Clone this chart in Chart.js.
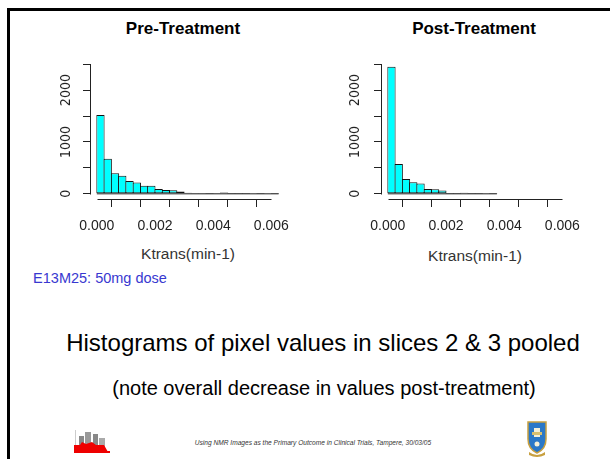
<!DOCTYPE html>
<html><head><meta charset="utf-8">
<script src="https://cdn.jsdelivr.net/npm/chart.js@4.4.0/dist/chart.umd.min.js"></script>
<style>
html,body{margin:0;padding:0;background:#fff;}
body{width:610px;height:459px;position:relative;overflow:hidden;font-family:'Liberation Sans',Arial,sans-serif;}
.frame{position:absolute;left:7px;top:8px;width:700px;height:600px;border-top:3px solid #000;border-left:3px solid #000;}
.t{position:absolute;white-space:nowrap;transform:translate(-50%,-50%);line-height:1;}
.cw{position:absolute;}
</style></head><body>
<div class="frame"></div>
<div class="t" style="left:183px;top:28px;font-weight:bold;font-size:17px;color:#000;">Pre-Treatment</div>
<div class="t" style="left:474px;top:28px;font-weight:bold;font-size:17px;color:#000;">Post-Treatment</div>
<div class="t" style="left:188px;top:254px;font-size:15.5px;color:#333;">Ktrans(min-1)</div>
<div class="t" style="left:475px;top:256px;font-size:15.5px;color:#333;">Ktrans(min-1)</div>
<div class="t" style="left:100px;top:278px;font-size:14.5px;color:#3838d0;">E13M25: 50mg dose</div>
<div class="t" style="left:323px;top:343px;font-size:24px;color:#000;">Histograms of pixel values in slices 2 &amp; 3 pooled</div>
<div class="t" style="left:324px;top:388px;font-size:20px;color:#000;">(note overall decrease in values post-treatment)</div>
<div class="t" style="left:313px;top:443px;font-size:6.6px;font-style:italic;color:#333;">Using NMR Images as the Primary Outcome in Clinical Trials, Tampere, 30/03/05</div>
<svg style="position:absolute;left:70px;top:428px" width="42" height="26" viewBox="0 0 42 26">
  <rect x="9" y="8" width="5" height="12" fill="#888"/>
  <rect x="15" y="4" width="6" height="16" fill="#999"/>
  <rect x="23" y="6" width="5" height="14" fill="#888"/>
  <rect x="29" y="10" width="6" height="10" fill="#aaa"/>
  <rect x="5" y="2" width="1" height="18" fill="#ccc"/>
  <path d="M4 24 L4 17 L10 17 L12 14 L16 16 L22 14 L26 17 L34 17 L38 24 Z" fill="#e00"/>
  <rect x="4" y="23" width="36" height="2" fill="#e00"/>
</svg>
<svg style="position:absolute;left:526px;top:419px" width="22" height="38" viewBox="0 0 22 38">
  <path d="M2 3 L20 3 L20 20 Q20 30 11 34 Q2 30 2 20 Z" fill="#2a78c8" stroke="#c8a040" stroke-width="1.5"/>
  <rect x="8" y="9" width="6" height="9" fill="#f4f0d8"/>
  <rect x="6" y="13" width="10" height="3" fill="#d8c070"/>
  <circle cx="11" cy="25" r="2.5" fill="#f4f0d8"/>
  <path d="M3 33 Q11 39 19 33 L19 36 Q11 40 3 36 Z" fill="#c8a040"/>
</svg>
<div class="cw" style="left:30px;top:40px;"><canvas id="cPre" width="270" height="240"></canvas></div>
<div class="cw" style="left:320px;top:40px;"><canvas id="cPost" width="270" height="240"></canvas></div>
<script>
// ---- data ----
const binWidth = 0.00025;
const preCounts  = [1520, 675, 396, 350, 245, 218, 155, 155, 92, 73, 68, 45, 22, 18, 4, 3, 4, 25, 2, 1, 1, 0, 1, 0, 1];
const postCounts = [2450, 575, 286, 224, 201, 91, 87, 65, 3, 2, 22, 2, 1, 0, 1];
const xTickValues = [0, 0.001, 0.002, 0.003, 0.004, 0.005, 0.006];
const xTickLabels = ['0.000', '', '0.002', '', '0.004', '', '0.006'];
const yTickValues = [0, 500, 1000, 1500, 2000, 2500];
const yTickLabels = ['0', '', '1000', '', '2000', ''];
const titles = ['Pre-Treatment', 'Post-Treatment'];

const tickFontX = {family: "'Liberation Sans', Arial, sans-serif", size: 14};
const tickFontY = {family: "'Liberation Sans Narrow', 'DejaVu Sans Condensed', 'Liberation Sans', sans-serif", size: 14};

function measure(text, f) {
  const c = document.createElement('canvas').getContext('2d');
  c.font = f.size + 'px ' + f.family;
  return c.measureText(text).width;
}
const widestY = Math.max(...yTickLabels.map(l => measure(l, tickFontY)));

const rAxis = {
  id: 'rAxis',
  afterDraw(chart) {
    const ctx = chart.ctx, xs = chart.scales.x, ys = chart.scales.y;
    ctx.save();
    ctx.strokeStyle = '#222';
    ctx.lineWidth = 1;
    const yb = Math.round(xs.top) + 0.5;
    ctx.beginPath();
    ctx.moveTo(Math.round(xs.getPixelForValue(xTickValues[0])) + 0.5, yb);
    ctx.lineTo(Math.round(xs.getPixelForValue(xTickValues[xTickValues.length - 1])) + 0.5, yb);
    ctx.stroke();
    const xl = Math.round(ys.right) - 0.5;
    ctx.beginPath();
    ctx.moveTo(xl, Math.round(ys.getPixelForValue(yTickValues[0])) + 0.5);
    ctx.lineTo(xl, Math.round(ys.getPixelForValue(yTickValues[yTickValues.length - 1])) + 0.5);
    ctx.stroke();
    ctx.restore();
  }
};

function makeHist(id, counts, yAxisWidth, labelCenterX, padRight) {
  const bins = counts.map((c, i) => ({x: (i + 0.5) * binWidth, y: c}));
  const lastEdge = counts.length * binWidth;
  new Chart(document.getElementById(id), {
    type: 'bar',
    data: {
      datasets: [
        {type: 'line', data: [{x: 0, y: 0}, {x: lastEdge, y: 0}], borderColor: '#222', borderWidth: 1, pointRadius: 0, order: 2},
        {type: 'bar', data: bins, backgroundColor: '#00ffff', borderColor: '#111', borderWidth: 1,
         borderSkipped: false, barPercentage: 1, categoryPercentage: 1.14, order: 1}
      ]
    },
    options: {
      responsive: false, animation: false, events: [],
      layout: {padding: {left: 0, top: 19, right: padRight, bottom: 0}},
      plugins: {legend: {display: false}, tooltip: {enabled: false}, title: {display: false}},
      scales: {
        x: {
          type: 'linear', min: -0.0002, max: 0.0064, offset: false,
          afterBuildTicks: s => { s.ticks = xTickValues.map(v => ({value: v})); },
          afterFit: s => { s.height = 81; s.paddingLeft = 0; s.paddingRight = 0; },
          grid: {display: true, drawOnChartArea: false, drawTicks: true, tickLength: 8, color: '#222', lineWidth: 1},
          border: {display: false},
          ticks: {autoSkip: false, maxRotation: 0, minRotation: 0, padding: 11, color: '#222', font: tickFontX,
                  callback: (v, i) => xTickLabels[i]}
        },
        y: {
          type: 'linear', min: -100, max: 2600,
          afterBuildTicks: s => { s.ticks = yTickValues.map(v => ({value: v})); },
          afterFit: s => { s.width = yAxisWidth; s.paddingTop = 0; s.paddingBottom = 0; },
          grid: {display: true, drawOnChartArea: false, drawTicks: true, tickLength: 8, color: '#222', lineWidth: 1},
          border: {display: false},
          ticks: {autoSkip: false, minRotation: 90, maxRotation: 90, crossAlign: 'center',
                  padding: yAxisWidth - 8 - labelCenterX - widestY / 2, color: '#222', font: tickFontY,
                  callback: (v, i) => yTickLabels[i]}
        }
      }
    },
    plugins: [rAxis]
  });
}
makeHist('cPre', preCounts, 61, 36.7, 17);
makeHist('cPost', postCounts, 62, 35, 16);
</script>
</body></html>
